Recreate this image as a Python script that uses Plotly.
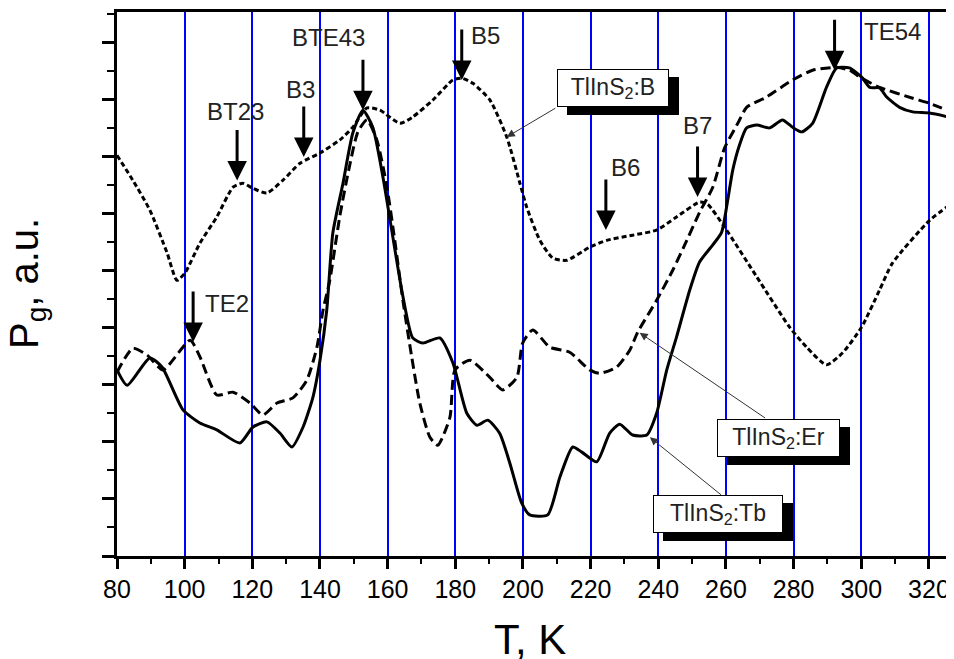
import plotly.graph_objects as go

# ---- data (T in K, Pg in arbitrary units) ----
T_b = [80.0, 84.7, 89.7, 94.8, 97.7, 100.1, 104.5, 109.5, 114.3, 117.2,
       120.2, 124.3, 129.0, 134.1, 140.0, 145.9, 149.7, 153.9, 157.7, 163.6,
       167.4, 173.4, 179.3, 181.9, 185.2, 190.2, 195.2, 199.1, 201.1, 205.0,
       208.8, 212.9, 219.7, 224.8, 232.4, 239.5, 245.4, 252.2, 254.6, 259.6,
       269.1, 278.8, 283.8, 289.7, 294.5, 300.1, 305.4, 309.2, 320.2, 327.3]
P_b = [7.02, 6.58, 6.06, 5.31, 4.83, 4.96, 5.48, 5.94, 6.46, 6.53,
       6.44, 6.36, 6.58, 6.88, 7.06, 7.29, 7.51, 7.85, 7.81, 7.58,
       7.69, 7.99, 8.34, 8.37, 8.28, 7.99, 7.34, 6.53, 6.11, 5.53,
       5.22, 5.18, 5.41, 5.53, 5.62, 5.71, 5.94, 6.20, 6.16, 5.76,
       4.89, 4.01, 3.66, 3.35, 3.56, 4.01, 4.66, 5.13, 5.88, 6.20]

T_er = [80.0, 84.7, 88.9, 93.6, 101.6, 104.5, 109.5, 114.3, 119.3, 123.1,
        127.3, 132.0, 136.1, 139.1, 140.9, 142.9, 145.9, 148.8, 151.2, 153.9,
        156.8, 159.8, 162.1, 164.5, 167.1, 169.5, 172.5, 174.8, 178.4, 179.9,
        184.3, 190.2, 194.0, 198.2, 199.9, 202.9, 207.9, 213.8, 219.7, 222.7,
        227.7, 231.6, 233.9, 239.5, 244.3, 247.8, 252.2, 256.1, 259.6, 263.5,
        266.1, 272.0, 279.7, 285.6, 292.7, 296.5, 300.1, 305.4, 315.2, 320.2,
        327.3]
P_er = [3.22, 3.64, 3.52, 3.26, 3.78, 3.49, 2.82, 2.87, 2.68, 2.47,
        2.68, 2.77, 3.08, 3.66, 4.31, 4.83, 5.97, 6.85, 7.43, 7.64,
        7.29, 6.46, 5.53, 4.48, 3.49, 2.68, 2.08, 1.94, 2.43, 3.26,
        3.43, 3.13, 2.91, 3.13, 3.73, 3.96, 3.66, 3.57, 3.26, 3.20,
        3.31, 3.61, 3.92, 4.48, 5.01, 5.45, 6.02, 6.46, 7.15, 7.58,
        7.86, 8.04, 8.34, 8.51, 8.56, 8.51, 8.37, 8.21, 8.02, 7.93,
        7.76]

T_tb = [80.0, 83.0, 89.7, 93.3, 99.5, 104.5, 109.5, 116.3, 120.2, 124.3,
        128.2, 131.7, 135.0, 137.9, 140.0, 142.0, 143.8, 146.8, 149.7, 152.7,
        155.6, 158.6, 161.5, 164.5, 167.4, 170.4, 175.4, 179.3, 183.4, 186.4,
        189.6, 193.1, 196.1, 199.6, 202.0, 207.3, 210.9, 214.7, 217.4, 221.8,
        225.6, 228.6, 232.4, 236.6, 239.5, 242.5, 245.4, 249.3, 252.2, 256.1,
        258.7, 260.5, 262.0, 264.0, 266.1, 269.1, 272.9, 276.7, 279.7, 282.4,
        285.6, 289.7, 292.7, 296.5, 300.1, 302.5, 305.4, 307.5, 311.3, 315.2,
        320.2, 327.3]
P_tb = [3.26, 2.99, 3.47, 3.31, 2.56, 2.33, 2.21, 1.98, 2.26, 2.35,
        2.15, 1.91, 2.26, 2.78, 3.43, 4.31, 5.66, 6.53, 7.41, 7.81,
        7.51, 6.64, 5.60, 4.55, 3.82, 3.73, 3.82, 3.38, 2.50, 2.29,
        2.38, 2.15, 1.63, 0.93, 0.72, 0.72, 1.38, 1.91, 1.82, 1.65,
        2.15, 2.31, 2.12, 2.12, 2.50, 3.26, 3.84, 4.66, 5.15, 5.45,
        5.67, 6.23, 6.76, 7.20, 7.50, 7.55, 7.50, 7.64, 7.51, 7.43,
        7.58, 8.21, 8.55, 8.55, 8.39, 8.21, 8.20, 8.04, 7.86, 7.78,
        7.76, 7.67]

# peak markers: label, arrow tip (T, P), label position (T, P)
peak_labels = ["BT23", "B3", "BTE43", "B5", "B6", "B7", "TE54", "TE2"]
peak_T = [115.5, 135.2, 152.7, 181.9, 224.5, 251.6, 292.1, 102.5]
peak_P = [6.58, 6.99, 7.81, 8.34, 5.71, 6.29, 8.51, 3.75]
label_T = [114.9, 134.1, 142.6, 189.0, 230.4, 251.6, 309.2, 112.5]
label_P = [7.78, 8.18, 9.09, 9.11, 6.80, 7.55, 9.18, 4.43]

# series tags: text, box centre, pointer tip, pointer tail
tag_text = ["TlInS<sub>2</sub>:B", "TlInS<sub>2</sub>:Er", "TlInS<sub>2</sub>:Tb"]
tag_T = [226.5, 275.4, 257.5]
tag_P = [8.20, 2.07, 0.74]
tip_T = [195.2, 234.5, 237.5]
tip_P = [7.34, 3.91, 2.08]
tail_T = [210.0, 272.0, 259.0]
tail_P = [7.86, 2.40, 1.05]
tag_w = [106, 117, 124]

x_ticks = list(range(80, 321, 20))

FONT = "Liberation Sans, Arial, Helvetica, sans-serif"

fig = go.Figure()
fig.add_trace(go.Scatter(x=T_b, y=P_b, mode="lines", name="TlInS2:B",
                         line=dict(color="black", width=3, dash="5px,3px",
                                   shape="spline", smoothing=0.6)))
fig.add_trace(go.Scatter(x=T_er, y=P_er, mode="lines", name="TlInS2:Er",
                         line=dict(color="black", width=3, dash="10px,5px",
                                   shape="spline", smoothing=0.6)))
fig.add_trace(go.Scatter(x=T_tb, y=P_tb, mode="lines", name="TlInS2:Tb",
                         line=dict(color="black", width=3,
                                   shape="spline", smoothing=0.6)))

ann = []
for lab, tx, ty, lx, ly in zip(peak_labels, peak_T, peak_P, label_T, label_P):
    ann.append(dict(x=tx, y=ty, xref="x", yref="y", text="", showarrow=True,
                    ax=0, ay=-52, arrowhead=2, arrowsize=1.3, arrowwidth=3,
                    arrowcolor="black"))
    ann.append(dict(x=lx, y=ly, xref="x", yref="y", text=lab, showarrow=False,
                    font=dict(family=FONT, size=24, color="#222")))

for txt, bx, by, px, py, qx, qy, w in zip(tag_text, tag_T, tag_P, tip_T, tip_P,
                                          tail_T, tail_P, tag_w):
    ann.append(dict(x=px, y=py, xref="x", yref="y", ax=qx, ay=qy,
                    axref="x", ayref="y", text="", showarrow=True,
                    arrowhead=2, arrowsize=1.6, arrowwidth=1, arrowcolor="#333"))
    # shadow
    ann.append(dict(x=bx, y=by, xref="x", yref="y", text=txt, showarrow=False,
                    xshift=10, yshift=-8, width=w, height=32,
                    bgcolor="black", bordercolor="black", borderwidth=1, borderpad=2,
                    font=dict(family=FONT, size=23, color="black")))
    ann.append(dict(x=bx, y=by, xref="x", yref="y", text=txt, showarrow=False,
                    width=w, height=32,
                    bgcolor="white", bordercolor="black", borderwidth=1, borderpad=2,
                    font=dict(family=FONT, size=23, color="#222")))

# axis titles
ann.append(dict(x=0.4934, y=-0.1526, xref="paper", yref="paper",
                text="T, K", showarrow=False, yanchor="middle",
                font=dict(family=FONT, size=42, color="black")))
ann.append(dict(x=-0.1075, y=0.5, xref="paper", yref="paper",
                text="P<sub>g</sub>, a.u.", showarrow=False, textangle=-90,
                xanchor="center", yanchor="middle",
                font=dict(family=FONT, size=40, color="black")))

fig.update_layout(
    width=946, height=651,
    margin=dict(l=109, r=0, t=4, b=103),
    paper_bgcolor="white", plot_bgcolor="white",
    showlegend=False,
    annotations=ann,
    xaxis=dict(range=[80, 327.4], tickmode="array", tickvals=x_ticks,
               ticktext=[str(v) for v in x_ticks],
               showgrid=True, gridcolor="#0000ff", gridwidth=2,
               zeroline=False, showline=True, linecolor="black", linewidth=3,
               mirror=True, ticks="outside", ticklen=10, tickwidth=3,
               tickcolor="black", ticklabelstandoff=-1,
               tickfont=dict(family=FONT, size=25, color="black"),
               minor=dict(dtick=10, tick0=80, ticks="outside", ticklen=5,
                          tickwidth=2, tickcolor="black", showgrid=False)),
    yaxis=dict(range=[0, 9.53], dtick=1, tick0=0, showticklabels=False,
               showgrid=False, zeroline=False, showline=True,
               linecolor="black", linewidth=3, ticks="outside", ticklen=12,
               tickwidth=3, tickcolor="black",
               minor=dict(dtick=0.5, ticks="outside", ticklen=7, tickwidth=2,
                          tickcolor="black", showgrid=False)),
)

fig.write_html("out.html")
